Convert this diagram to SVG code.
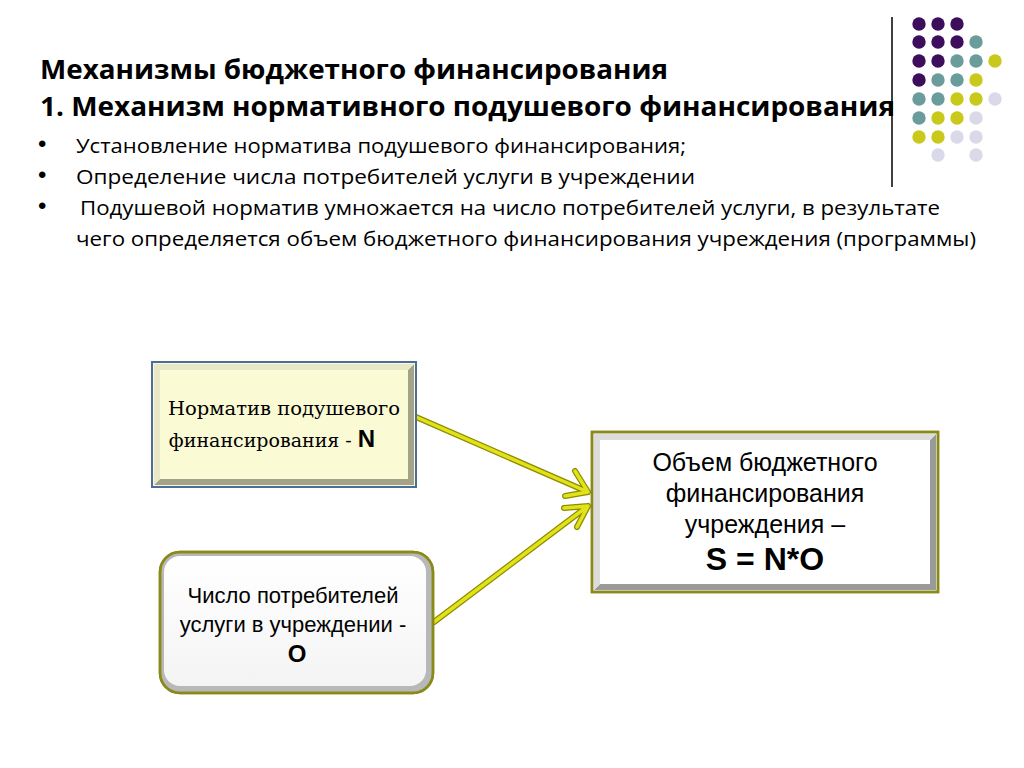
<svg xmlns="http://www.w3.org/2000/svg" width="1024" height="768" viewBox="0 0 1024 768">
<defs>
<style>
.h{font-family:"Open Sans","Noto Sans",sans-serif;font-weight:bold;font-size:27px;fill:#000}
.b{font-family:"Open Sans","Noto Sans",sans-serif;font-size:20px;fill:#000}
.bu{font-family:"Liberation Sans",Arial,sans-serif;font-size:24px;fill:#000}
.s{font-family:"Liberation Sans",Arial,sans-serif;fill:#000;text-anchor:middle}
.sf{font-family:"DejaVu Serif","Liberation Serif",serif;font-size:19px;fill:#000;text-anchor:middle}
.p{fill:#3d0e5c}.t{fill:#6b9c9c}.y{fill:#c9c91c}.l{fill:#d9d9ea}
.con{fill:none;stroke:#8c8c00;stroke-width:6;stroke-linecap:round;stroke-linejoin:round}
.coni{fill:none;stroke:#e2e21a;stroke-width:3.5;stroke-linecap:round;stroke-linejoin:round}
</style>
<linearGradient id="gw" x1="0" y1="0" x2="0" y2="1"><stop offset="0" stop-color="#ffffff"/><stop offset="1" stop-color="#f4f4f4"/></linearGradient>
</defs>
<rect width="1024" height="768" fill="#fff"/>
<g id="decor">
<line x1="892" y1="17" x2="892" y2="187" stroke="#000" stroke-width="1.5"/>
<circle class="p" cx="919" cy="24" r="6.7"/><circle class="p" cx="938" cy="24" r="6.7"/><circle class="p" cx="957" cy="24" r="6.7"/>
<circle class="p" cx="919" cy="42" r="6.7"/><circle class="p" cx="938" cy="42" r="6.7"/><circle class="p" cx="957" cy="42" r="6.7"/><circle class="t" cx="976" cy="42" r="6.7"/>
<circle class="p" cx="919" cy="61" r="6.7"/><circle class="p" cx="938" cy="61" r="6.7"/><circle class="t" cx="957" cy="61" r="6.7"/><circle class="t" cx="976" cy="61" r="6.7"/><circle class="y" cx="995" cy="61" r="6.7"/>
<circle class="p" cx="919" cy="80" r="6.7"/><circle class="t" cx="938" cy="80" r="6.7"/><circle class="t" cx="957" cy="80" r="6.7"/><circle class="y" cx="976" cy="80" r="6.7"/>
<circle class="t" cx="919" cy="99" r="6.7"/><circle class="t" cx="938" cy="99" r="6.7"/><circle class="y" cx="957" cy="99" r="6.7"/><circle class="y" cx="976" cy="99" r="6.7"/><circle class="l" cx="995" cy="99" r="6.7"/>
<circle class="t" cx="919" cy="118" r="6.7"/><circle class="y" cx="938" cy="118" r="6.7"/><circle class="y" cx="957" cy="118" r="6.7"/><circle class="l" cx="976" cy="118" r="6.7"/>
<circle class="y" cx="919" cy="137" r="6.7"/><circle class="y" cx="938" cy="137" r="6.7"/><circle class="l" cx="957" cy="137" r="6.7"/><circle class="l" cx="976" cy="137" r="6.7"/>
<circle class="l" cx="938" cy="155" r="6.7"/><circle class="l" cx="976" cy="155" r="6.7"/>
</g>
<g id="title">
<text class="h" x="40" y="79" textLength="628" lengthAdjust="spacingAndGlyphs">Механизмы бюджетного финансирования</text>
<text class="h" x="40" y="116" textLength="855" lengthAdjust="spacingAndGlyphs">1. Механизм нормативного подушевого финансирования</text>
<text class="bu" x="38" y="152">•</text>
<text class="b" x="76" y="153" textLength="610" lengthAdjust="spacingAndGlyphs">Установление норматива подушевого финансирования;</text>
<text class="bu" x="38" y="183">•</text>
<text class="b" x="76" y="184" textLength="619" lengthAdjust="spacingAndGlyphs">Определение  числа  потребителей услуги в учреждении</text>
<text class="bu" x="38" y="214">•</text>
<text class="b" x="80" y="215" textLength="860" lengthAdjust="spacingAndGlyphs">Подушевой норматив  умножается на число потребителей услуги, в результате</text>
<text class="b" x="76" y="246" textLength="900" lengthAdjust="spacingAndGlyphs">чего определяется  объем бюджетного финансирования учреждения (программы)</text>
</g>
<g id="connectors">
<path class="con" d="M416,417 L588,492 M575,471 L588,492 L565,496"/>
<path class="coni" d="M416,417 L588,492 M575,471 L588,492 L565,496"/>
<path class="con" d="M434,622 L588,506 M564,508 L588,506 L577,527"/>
<path class="coni" d="M434,622 L588,506 M564,508 L588,506 L577,527"/>
</g>
<g id="nodeN">
<rect x="152" y="362" width="264" height="125" fill="#fafad4" stroke="#4c6c9c" stroke-width="2"/>
<polygon points="408,370 414,364 414,485 154,485 160,479 408,479" fill="#a3a38a"/>
<polygon points="154,364 414,364 408,370 160,370 160,479 154,485" fill="#e8e8c8"/>
<rect x="152" y="362" width="264" height="125" fill="none" stroke="#4c6c9c" stroke-width="2"/>
<text class="sf" x="284" y="415" textLength="232" lengthAdjust="spacingAndGlyphs">Норматив подушевого</text>
<text class="sf" x="272" y="447">финансирования - <tspan style="font-family:'Liberation Sans',Arial,sans-serif;font-weight:bold;font-size:24px">N</tspan></text>
</g>
<g id="nodeO">
<rect x="160" y="552" width="273" height="141" rx="20" fill="#b8b8b8" stroke="#8a8a1a" stroke-width="2.5"/>
<rect x="164" y="556" width="262" height="130" rx="16" fill="url(#gw)"/>
<rect x="160" y="552" width="273" height="141" rx="20" fill="none" stroke="#8a8a1a" stroke-width="2.5"/>
<text class="s" x="293" y="603" style="font-size:22px">Число потребителей</text>
<text class="s" x="293" y="632" style="font-size:22px">услуги в учреждении -</text>
<text class="s" x="297" y="662" style="font-size:24px;font-weight:bold">O</text>
</g>
<g id="nodeS">
<rect x="592" y="432" width="346" height="160" fill="#ffffff" stroke="#8a8a1a" stroke-width="2.5"/>
<polygon points="930,440 936,434 936,590 594,590 600,584 930,584" fill="#9a9a9a"/>
<polygon points="594,434 936,434 930,440 600,440 600,584 594,590" fill="#dcdcdc"/>
<rect x="592" y="432" width="346" height="160" fill="none" stroke="#8a8a1a" stroke-width="2.5"/>
<text class="s" x="765" y="471" style="font-size:25px">Объем бюджетного</text>
<text class="s" x="765" y="502" style="font-size:25px">финансирования</text>
<text class="s" x="765" y="533" style="font-size:25px">учреждения –</text>
<text class="s" x="765" y="570" style="font-size:32px;font-weight:bold">S = N*O</text>
</g>
</svg>
